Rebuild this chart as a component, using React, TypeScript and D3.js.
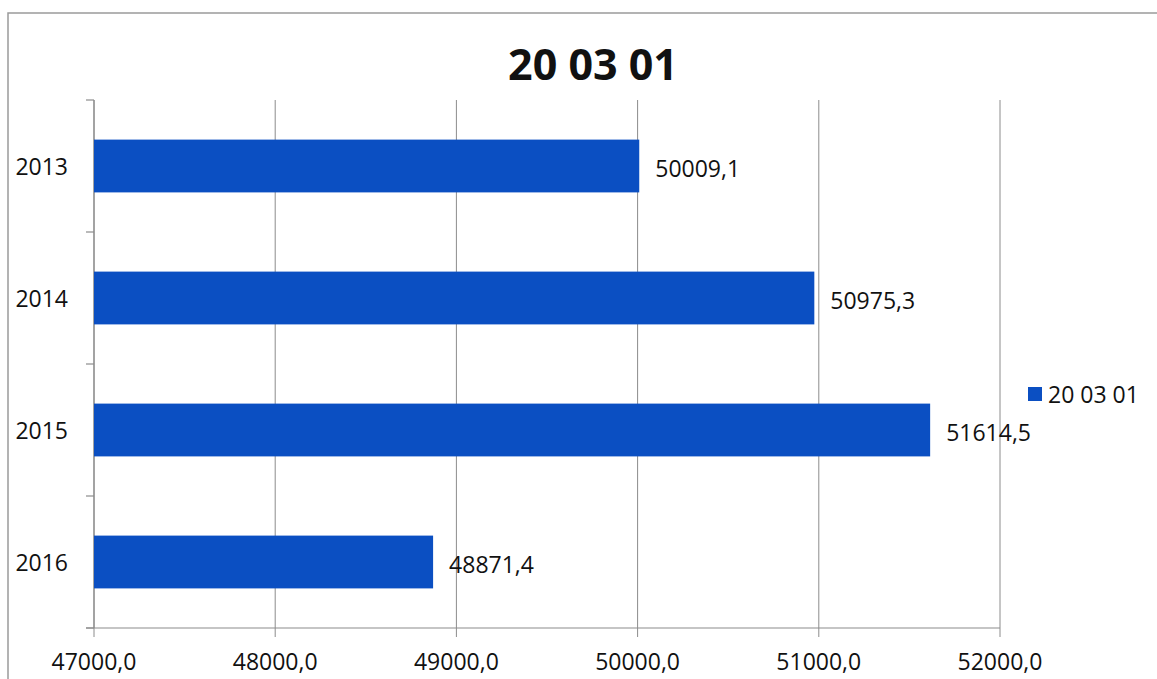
import React from 'react';
import * as d3 from 'd3';

const years = ['2013', '2014', '2015', '2016'];
const values = [50009.1, 50975.3, 51614.5, 48871.4];
const xTicks = [47000, 48000, 49000, 50000, 51000, 52000];
const seriesName = '20 03 01';
const title = '20 03 01';

const width = 1157;
const height = 679;
const font = '"Open Sans", sans-serif';
const barColor = '#0b4fc2';
const lineColor = '#8c8c8c';

const fmt = (v: number, digits: number) => v.toFixed(digits).replace('.', ',');

function App() {
  const left = 94;
  const right = 1000;
  const top = 100;
  const bottom = 628;

  const x = d3.scaleLinear().domain([47000, 52000]).range([left, right]);
  const y = d3
    .scaleBand<string>()
    .domain(years)
    .range([top, bottom])
    .paddingInner(0.6)
    .paddingOuter(0.3);

  const step = y.step();
  const boundaries = d3.range(years.length + 1).map(i => top + i * step);

  return (
    <svg
      width={width}
      height={height}
      viewBox={`0 0 ${width} ${height}`}
      style={{ position: 'absolute', left: 0, top: 0, background: '#fff' }}
    >
      <rect x={0} y={0} width={width} height={height} fill="#fff" />
      <rect x={8} y={13} width={width + 20} height={height + 20} fill="none" stroke="#9a9a9a" strokeWidth={1.5} />

      <text x={593} y={80} textAnchor="middle" fontFamily={font} fontWeight={700} fontSize={43} fill="#111">
        {title}
      </text>

      {xTicks.map(t => (
        <g key={t}>
          <line x1={x(t)} x2={x(t)} y1={top} y2={bottom + 9} stroke={lineColor} strokeWidth={1} />
          <text x={x(t)} y={670} textAnchor="middle" fontFamily={font} fontSize={23} fill="#111">
            {fmt(t, 1)}
          </text>
        </g>
      ))}

      <line x1={left} x2={left} y1={top} y2={bottom} stroke={lineColor} strokeWidth={1.2} />
      <line x1={left - 8} x2={right} y1={bottom} y2={bottom} stroke={lineColor} strokeWidth={1.2} />
      {boundaries.map((b, i) => (
        <line key={i} x1={left - 8} x2={left} y1={b} y2={b} stroke={lineColor} strokeWidth={1.2} />
      ))}

      {years.map((yr, i) => {
        const yy = y(yr) as number;
        const bw = y.bandwidth();
        return (
          <g key={yr}>
            <rect x={x(47000)} y={yy} width={x(values[i]) - x(47000)} height={bw} fill={barColor} />
            <text
              x={68}
              y={yy + bw / 2}
              textAnchor="end"
              dominantBaseline="central"
              fontFamily={font}
              fontSize={23}
              fill="#111"
            >
              {yr}
            </text>
            <text
              x={x(values[i]) + 16}
              y={yy + bw / 2 + 2}
              dominantBaseline="central"
              fontFamily={font}
              fontSize={23}
              fill="#111"
            >
              {fmt(values[i], 1)}
            </text>
          </g>
        );
      })}

      <rect x={1028} y={387} width={14} height={14} fill={barColor} />
      <text x={1048} y={394} dominantBaseline="central" fontFamily={font} fontSize={23} fill="#111">
        {seriesName}
      </text>
    </svg>
  );
}

export default App;
